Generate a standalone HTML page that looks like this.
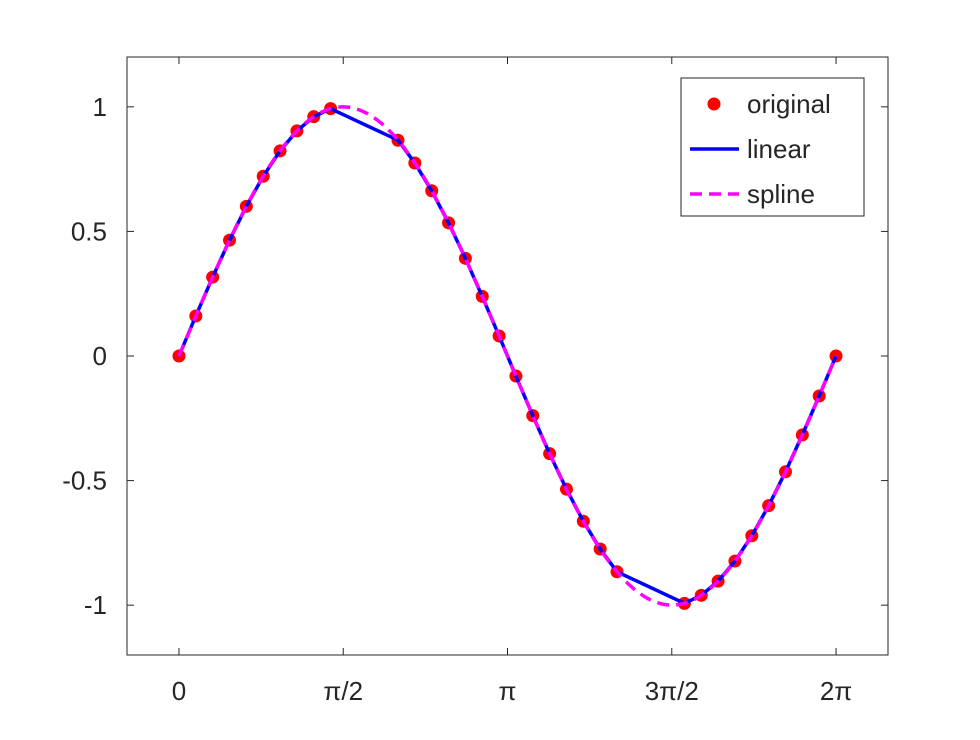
<!DOCTYPE html>
<html><head><meta charset="utf-8"><style>
body{margin:0;background:#fff}
svg text{font-family:"Liberation Sans",sans-serif;fill:#262626}
</style></head><body>
<svg width="980" height="735" viewBox="0 0 980 735" xmlns="http://www.w3.org/2000/svg">
<rect x="0" y="0" width="980" height="735" fill="#fff"/>
<g id="axes"></g>
<g id="plot"></g>
<g id="legend"></g>
</svg>
<script>
const xIndex=[0,1,2,3,4,5,6,7,8,9,13,14,15,16,17,18,19,20,21,22,23,24,25,26,30,31,32,33,34,35,36,37,38,39];
const yValues=[0,0.1604,0.3167,0.4647,0.6007,0.7213,0.8230,0.9034,0.9605,0.9927,0.8660,0.7746,0.6631,0.5345,0.3920,0.2393,0.0805,-0.0805,-0.2393,-0.3920,-0.5345,-0.6631,-0.7746,-0.8660,-0.9927,-0.9605,-0.9034,-0.8230,-0.7213,-0.6007,-0.4647,-0.3167,-0.1604,0];
const xTickValues=[0,Math.PI/2,Math.PI,3*Math.PI/2,2*Math.PI];
const xTickLabels=["0","\u03c0/2","\u03c0","3\u03c0/2","2\u03c0"];
const yTickValues=[-1,-0.5,0,0.5,1];
const yTickLabels=["-1","-0.5","0","0.5","1"];
const legendLabels=["original","linear","spline"];
const xValues=xIndex.map(k=>2*Math.PI*k/39);

const L=127,R=888,T=57,B=655,xmin=-0.497,xmax=6.78,ymin=-1.2,ymax=1.2;
const sx=v=>L+(v-xmin)/(xmax-xmin)*(R-L);
const sy=v=>B-(v-ymin)/(ymax-ymin)*(B-T);
const NS="http://www.w3.org/2000/svg";
function mk(tag,attrs,parent){const e=document.createElementNS(NS,tag);for(const k in attrs)e.setAttribute(k,attrs[k]);parent.appendChild(e);return e;}
const axes=document.getElementById('axes'),plot=document.getElementById('plot'),leg=document.getElementById('legend');

const frame=mk('rect',{x:L,y:T,width:R-L,height:B-T,fill:'none',stroke:'#262626','stroke-width':1},axes);


xTickValues.forEach((v,i)=>{
  const x=sx(v);
  mk('line',{x1:x,y1:B,x2:x,y2:B-7,stroke:'#262626'},axes);
  mk('line',{x1:x,y1:T,x2:x,y2:T+7,stroke:'#262626'},axes);
  const t=mk('text',{x:x,y:B+45,'font-size':26,'text-anchor':'middle'},axes);
  t.textContent=xTickLabels[i];
  
  
});
yTickValues.forEach((v,i)=>{
  const y=sy(v);
  mk('line',{x1:L,y1:y,x2:L+7,y2:y,stroke:'#262626'},axes);
  mk('line',{x1:R,y1:y,x2:R-7,y2:y,stroke:'#262626'},axes);
  const t=mk('text',{x:L-20,y:y+9,'font-size':26,'text-anchor':'end'},axes);
  t.textContent=yTickLabels[i];
  
  
});

// natural cubic spline
function spline(xs,ys){
  const n=xs.length,h=[],a=[],l=[1],mu=[0],z=[0],c=new Array(n).fill(0),b=[],d=[];
  for(let i=0;i<n-1;i++)h.push(xs[i+1]-xs[i]);
  for(let i=1;i<n-1;i++)a[i]=3/h[i]*(ys[i+1]-ys[i])-3/h[i-1]*(ys[i]-ys[i-1]);
  for(let i=1;i<n-1;i++){l[i]=2*(xs[i+1]-xs[i-1])-h[i-1]*mu[i-1];mu[i]=h[i]/l[i];z[i]=(a[i]-h[i-1]*z[i-1])/l[i];}
  l[n-1]=1;z[n-1]=0;
  for(let j=n-2;j>=0;j--){c[j]=z[j]-mu[j]*c[j+1];b[j]=(ys[j+1]-ys[j])/h[j]-h[j]*(c[j+1]+2*c[j])/3;d[j]=(c[j+1]-c[j])/(3*h[j]);}
  return x=>{let j=0;while(j<n-2&&x>xs[j+1])j++;const dx=x-xs[j];return ys[j]+b[j]*dx+c[j]*dx*dx+d[j]*dx*dx*dx;};
}
const f=spline(xValues,yValues);

let pts=[];
const markers=mk('g',{},plot);


xValues.forEach((v,i)=>{
  const c=mk('circle',{cx:sx(v),cy:sy(yValues[i]),r:6.5,fill:'#ff0000'},markers);
  
  
  pts.push(sx(v).toFixed(1)+','+sy(yValues[i]).toFixed(1));
});
const lin=mk('polyline',{points:pts.join(' '),fill:'none',stroke:'#0000ff','stroke-width':3.5},plot);


let sp=[];const x0=xValues[0],x1=xValues[xValues.length-1];
for(let i=0;i<=400;i++){const x=x0+(x1-x0)*i/400;sp.push(sx(x).toFixed(1)+','+sy(f(x)).toFixed(1));}
const spl=mk('polyline',{points:sp.join(' '),fill:'none',stroke:'#ff00ff','stroke-width':3.5,'stroke-dasharray':'12,7'},plot);



const lb=mk('rect',{x:681,y:78,width:183,height:138,fill:'#fff',stroke:'#262626'},leg);


const rows=[104,149,194];
const m=mk('circle',{cx:714,cy:rows[0],r:6.5,fill:'#ff0000'},leg);


const l1=mk('line',{x1:690,y1:rows[1],x2:739,y2:rows[1],stroke:'#0000ff','stroke-width':3.5},leg);


const l2=mk('line',{x1:690,y1:rows[2],x2:739,y2:rows[2],stroke:'#ff00ff','stroke-width':3.5,'stroke-dasharray':'12,7'},leg);


legendLabels.forEach((s,i)=>{
  const t=mk('text',{x:747,y:rows[i]+9,'font-size':26},leg);
  t.textContent=s;
  
  
});
</script>
</body></html>
